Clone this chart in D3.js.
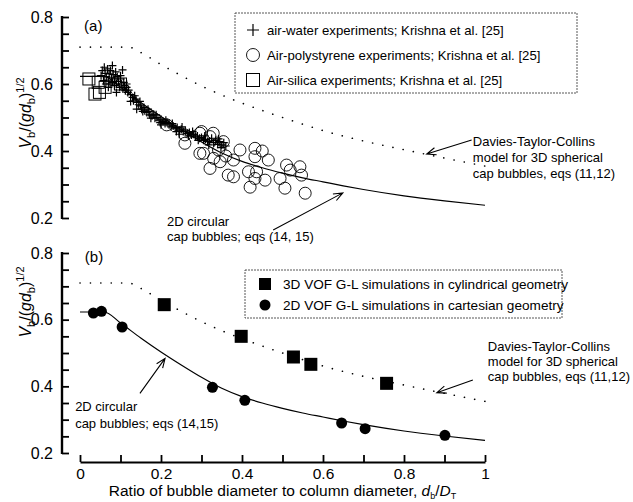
<!DOCTYPE html>
<html>
<head>
<meta charset="utf-8">
<script src="https://cdn.jsdelivr.net/npm/d3@7/dist/d3.min.js"></script>
<style>
body { margin: 0; background: #fff; }
svg { font-family: "Liberation Sans", Arial, Helvetica, sans-serif; }
</style>
</head>
<body>
<svg width="633" height="502"></svg>
<script>
// ---- data ----
// model curves (x = d_b/D_T, y = V_b/(g d_b)^1/2)
var dtcCurve = [[0,0.71],[0.12,0.71],[0.15,0.694],[0.2,0.658],[0.25,0.625],[0.3,0.594],[0.35,0.567],
  [0.4,0.543],[0.45,0.521],[0.5,0.5],[0.55,0.48],[0.6,0.461],[0.7,0.43],[0.8,0.404],[0.9,0.379],[1.0,0.355]];
var cap2dCurve = [[0,0.623],[0.06,0.623],[0.1,0.59],[0.15,0.545],[0.2,0.503],[0.25,0.464],[0.3,0.427],
  [0.35,0.394],[0.4,0.369],[0.45,0.35],[0.5,0.334],[0.55,0.32],[0.6,0.308],[0.65,0.296],[0.7,0.285],
  [0.8,0.266],[0.9,0.251],[1.0,0.238]];

// panel (a) experiments, Krishna et al.
var airWater = [[0.052,0.625],[0.055,0.640],[0.058,0.610],[0.060,0.650],[0.062,0.632],[0.064,0.600],
  [0.065,0.622],[0.068,0.645],[0.070,0.612],[0.070,0.590],[0.072,0.630],[0.074,0.600],[0.075,0.640],
  [0.078,0.618],[0.080,0.605],[0.080,0.655],[0.082,0.628],[0.085,0.595],[0.086,0.615],[0.088,0.636],
  [0.090,0.600],[0.090,0.575],[0.092,0.622],[0.095,0.608],[0.098,0.590],[0.100,0.615],[0.100,0.625],
  [0.102,0.600],[0.105,0.642],[0.106,0.585],[0.108,0.605],[0.110,0.595],[0.112,0.580],[0.115,0.590],
  [0.115,0.600],[0.118,0.575],[0.120,0.582],[0.125,0.568],[0.125,0.548],[0.130,0.560],[0.132,0.550],
  [0.135,0.565],[0.138,0.555],[0.140,0.545],[0.140,0.525],[0.145,0.538],[0.148,0.548],[0.150,0.535],
  [0.152,0.525],[0.155,0.518],[0.158,0.530],[0.160,0.520],[0.165,0.515],[0.168,0.525],[0.170,0.518],
  [0.172,0.508],[0.175,0.498],[0.178,0.505],[0.182,0.510],[0.185,0.498],[0.188,0.508],[0.190,0.500],
  [0.195,0.492],[0.198,0.485],[0.200,0.495],[0.200,0.478],[0.205,0.488],[0.210,0.482],[0.212,0.492],
  [0.215,0.485],[0.220,0.478],[0.225,0.472],[0.228,0.482],[0.230,0.475],[0.235,0.468],[0.238,0.458],
  [0.240,0.470],[0.245,0.462],[0.245,0.450],[0.250,0.465],[0.252,0.472],[0.255,0.458],[0.260,0.460],
  [0.265,0.452],[0.268,0.445],[0.270,0.455],[0.275,0.448],[0.278,0.458],[0.280,0.450],[0.285,0.442],
  [0.290,0.445],[0.292,0.432],[0.295,0.438],[0.300,0.440],[0.305,0.432],[0.308,0.445],[0.310,0.435],
  [0.315,0.428],[0.318,0.418],[0.320,0.430],[0.325,0.438],[0.330,0.425],[0.335,0.432],[0.340,0.420],
  [0.342,0.436],[0.345,0.428],[0.348,0.410],[0.350,0.418],[0.355,0.425],[0.360,0.415]];
var airPolystyrene = [[0.214,0.478],[0.259,0.423],[0.259,0.448],[0.296,0.453],[0.300,0.458],[0.321,0.443],
  [0.329,0.453],[0.296,0.393],[0.305,0.393],[0.342,0.403],[0.346,0.368],[0.321,0.348],[0.354,0.428],
  [0.366,0.328],[0.379,0.323],[0.379,0.373],[0.395,0.403],[0.432,0.408],[0.432,0.383],[0.465,0.373],
  [0.416,0.338],[0.436,0.338],[0.432,0.318],[0.457,0.313],[0.420,0.292],[0.506,0.289],[0.494,0.318],
  [0.510,0.358],[0.519,0.343],[0.543,0.353],[0.547,0.328],[0.556,0.274],[0.360,0.385],[0.330,0.378],
  [0.450,0.400]];
var airSilica = [[0.022,0.615],[0.045,0.605],[0.037,0.570],[0.048,0.575],[0.100,0.600],[0.062,0.590]];

// panel (b) VOF simulations
var vof3d = [[0.208,0.645],[0.398,0.550],[0.527,0.488],[0.570,0.466],[0.757,0.409]];
var vof2d = [[0.033,0.620],[0.053,0.625],[0.104,0.578],[0.327,0.397],[0.407,0.358],[0.646,0.290],
  [0.704,0.273],[0.901,0.253]];

var yMajor = [0.2, 0.4, 0.6, 0.8];
var yMinor = d3.range(0.2, 0.8001, 0.05);
var xTicks = d3.range(0, 1.0001, 0.1);

var legendA = ["air-water experiments; Krishna et al. [25]",
  "Air-polystyrene experiments; Krishna et al. [25]",
  "Air-silica experiments; Krishna et al. [25]"];
var legendB = ["3D VOF G-L simulations in cylindrical geometry",
  "2D VOF G-L simulations in cartesian geometry"];
var dtcText = ["Davies-Taylor-Collins", "model for 3D spherical", "cap bubbles, eqs (11,12)"];

// ---- scales ----
var svg = d3.select("svg");
var x = d3.scaleLinear().domain([0, 1]).range([80, 485]);
var ya = d3.scaleLinear().domain([0.2, 0.8]).range([218, 17]);
var yb = d3.scaleLinear().domain([0.2, 0.8]).range([453, 253]);
var axisX = 62;

function yAxis(y, labelY) {
  var g = svg.append("g");
  g.append("g")
      .attr("transform", "translate(" + axisX + ",0)")
      .call(d3.axisRight(y).tickValues(yMinor).tickSizeInner(7).tickSizeOuter(0).tickFormat(""))
      .call(function(s) {
        s.select(".domain").attr("stroke-width", 2.4).attr("d", "M0," + (y(0.8) - 1) + "V" + (y(0.2) + 1));
        s.selectAll(".tick line").attr("stroke-width", 1.8);
      });
  g.append("g")
      .attr("transform", "translate(" + axisX + ",0)")
      .call(d3.axisLeft(y).tickValues(yMajor).tickSize(0).tickPadding(9).tickFormat(d3.format(".1f")))
      .call(function(s) {
        s.select(".domain").remove();
        s.selectAll("text").attr("font-size", 16).attr("font-family", null).attr("fill", "#000");
      });
  // rotated label V_b/(g d_b)^1/2
  var t = g.append("text")
      .attr("transform", "translate(31," + labelY + ") rotate(-90)")
      .attr("text-anchor", "middle")
      .attr("font-size", 16);
  t.append("tspan").attr("font-style", "italic").text("V");
  t.append("tspan").attr("font-size", 11).attr("dy", 4).text("b");
  t.append("tspan").attr("dy", -4).text("/(");
  t.append("tspan").attr("font-style", "italic").text("gd");
  t.append("tspan").attr("font-size", 11).attr("dy", 4).text("b");
  t.append("tspan").attr("dy", -4).text(")");
  t.append("tspan").attr("font-size", 11).attr("dy", -7).text("1/2");
}

function curves(y) {
  var line = d3.line().x(function(d) { return x(d[0]); }).y(function(d) { return y(d[1]); })
      .curve(d3.curveMonotoneX);
  svg.append("path").datum(dtcCurve).attr("d", line)
      .attr("fill", "none").attr("stroke", "#000").attr("stroke-width", 1.6)
      .attr("stroke-linecap", "round").attr("stroke-dasharray", "0.1,10.3");
  svg.append("path").datum(cap2dCurve).attr("d", line)
      .attr("fill", "none").attr("stroke", "#000").attr("stroke-width", 1.2);
}

function arrow(y, x1, y1, x2, y2) {
  var ax = x(x1), ay = y(y1), bx = x(x2), by = y(y2);
  var ang = Math.atan2(by - ay, bx - ax), len = 10, spread = 0.38;
  var p = d3.path();
  p.moveTo(ax, ay); p.lineTo(bx, by);
  p.moveTo(bx - len * Math.cos(ang - spread), by - len * Math.sin(ang - spread));
  p.lineTo(bx, by);
  p.lineTo(bx - len * Math.cos(ang + spread), by - len * Math.sin(ang + spread));
  svg.append("path").attr("d", p.toString()).attr("fill", "none")
      .attr("stroke", "#000").attr("stroke-width", 1.1);
}

function textLines(y, xv, yv, lines, dyPx) {
  var t = svg.append("text").attr("font-size", 13).attr("fill", "#000");
  lines.forEach(function(s, i) {
    t.append("tspan").attr("x", x(xv)).attr("y", y(yv) + i * dyPx).text(s);
  });
}

var plusPath = "M-4,0H4M0,-4V4";
var plusPathBig = "M-6,0H6M0,-6V6";

// ---- panel (a) ----
yAxis(ya, 113);
curves(ya);

svg.append("g").selectAll("circle").data(airPolystyrene).enter().append("circle")
    .attr("cx", function(d) { return x(d[0]); }).attr("cy", function(d) { return ya(d[1]); })
    .attr("r", 6).attr("fill", "none").attr("stroke", "#000").attr("stroke-width", 0.9);
svg.append("g").selectAll("rect").data(airSilica).enter().append("rect")
    .attr("x", function(d) { return x(d[0]) - 6; }).attr("y", function(d) { return ya(d[1]) - 6; })
    .attr("width", 12).attr("height", 12).attr("fill", "none").attr("stroke", "#000").attr("stroke-width", 1);
svg.append("g").selectAll("path").data(airWater).enter().append("path")
    .attr("transform", function(d) { return "translate(" + x(d[0]) + "," + ya(d[1]) + ")"; })
    .attr("d", plusPath).attr("stroke", "#000").attr("stroke-width", 1.2);

svg.append("text").attr("x", x(0.01)).attr("y", ya(0.758)).attr("font-size", 15).text("(a)");

// legend (a)
svg.append("rect").attr("x", 235).attr("y", 13).attr("width", 342).attr("height", 80)
    .attr("fill", "none").attr("stroke", "#444").attr("stroke-width", 0.9).attr("stroke-dasharray", "2,1");
var legA = svg.append("g").selectAll("g").data(legendA).enter().append("g")
    .attr("transform", function(d, i) { return "translate(253," + (30 + i * 25) + ")"; });
legA.filter(function(d, i) { return i === 0; }).append("path").attr("d", plusPathBig)
    .attr("stroke", "#000").attr("stroke-width", 1.2);
legA.filter(function(d, i) { return i === 1; }).append("circle").attr("r", 6.5)
    .attr("fill", "none").attr("stroke", "#000").attr("stroke-width", 0.9);
legA.filter(function(d, i) { return i === 2; }).append("rect").attr("x", -6.5).attr("y", -6.5)
    .attr("width", 13).attr("height", 13).attr("fill", "none").attr("stroke", "#000").attr("stroke-width", 1);
legA.append("text").attr("x", 14).attr("dy", "0.35em").attr("font-size", 13.2).text(function(d) { return d; });

textLines(ya, 0.97, 0.415, dtcText, 16);
arrow(ya, 0.967, 0.433, 0.856, 0.391);
textLines(ya, 0.215, 0.175, ["2D circular", "cap bubbles; eqs (14, 15)"], 15);
arrow(ya, 0.477, 0.164, 0.649, 0.275);

// ---- panel (b) ----
yAxis(yb, 302);
curves(yb);

svg.append("g").selectAll("rect").data(vof3d).enter().append("rect")
    .attr("x", function(d) { return x(d[0]) - 6.5; }).attr("y", function(d) { return yb(d[1]) - 6.5; })
    .attr("width", 13).attr("height", 13).attr("fill", "#000");
svg.append("g").selectAll("circle").data(vof2d).enter().append("circle")
    .attr("cx", function(d) { return x(d[0]); }).attr("cy", function(d) { return yb(d[1]); })
    .attr("r", 5.5).attr("fill", "#000");

svg.append("text").attr("x", x(0.012)).attr("y", yb(0.773)).attr("font-size", 15).text("(b)");

svg.append("rect").attr("x", 245).attr("y", 270).attr("width", 317).attr("height", 48)
    .attr("fill", "none").attr("stroke", "#444").attr("stroke-width", 0.9).attr("stroke-dasharray", "2,1");
var legB = svg.append("g").selectAll("g").data(legendB).enter().append("g")
    .attr("transform", function(d, i) { return "translate(265," + (284 + i * 21) + ")"; });
legB.filter(function(d, i) { return i === 0; }).append("rect").attr("x", -6).attr("y", -6)
    .attr("width", 12).attr("height", 12).attr("fill", "#000");
legB.filter(function(d, i) { return i === 1; }).append("circle").attr("r", 5.5).attr("fill", "#000");
legB.append("text").attr("x", 18).attr("dy", "0.35em").attr("font-size", 13.6).text(function(d) { return d; });

textLines(yb, 1.007, 0.506, dtcText, 15);
arrow(yb, 0.97, 0.419, 0.881, 0.381);
textLines(yb, -0.012, 0.326, ["2D circular", "cap bubbles; eqs (14,15)"], 17);
arrow(yb, 0.148, 0.379, 0.21, 0.484);

// x axis (bottom panel only), ticks pointing up
svg.append("g")
    .attr("transform", "translate(0,462)")
    .call(d3.axisBottom(x).tickValues(xTicks).tickSizeInner(-7).tickSizeOuter(0).tickPadding(6)
      .tickFormat(function(d) { var k = Math.round(d * 10); return k % 2 === 0 ? d3.format("~g")(k / 10) : ""; }))
    .call(function(s) {
      s.select(".domain").attr("stroke-width", 2.2);
      s.selectAll(".tick line").attr("stroke-width", 1.8);
      s.selectAll("text").attr("font-size", 15.5).attr("font-family", null).attr("fill", "#000");
    });

var xl = svg.append("text").attr("x", x(0.5)).attr("y", 496).attr("text-anchor", "middle").attr("font-size", 15.5);
xl.append("tspan").text("Ratio of bubble diameter to column diameter, ");
xl.append("tspan").attr("font-style", "italic").text("d");
xl.append("tspan").attr("font-size", 9).attr("dy", 2.5).text("b");
xl.append("tspan").attr("dy", -2.5).text("/");
xl.append("tspan").attr("font-style", "italic").text("D");
xl.append("tspan").attr("font-size", 9).attr("dy", 2.5).text("T");
</script>
</body>
</html>
